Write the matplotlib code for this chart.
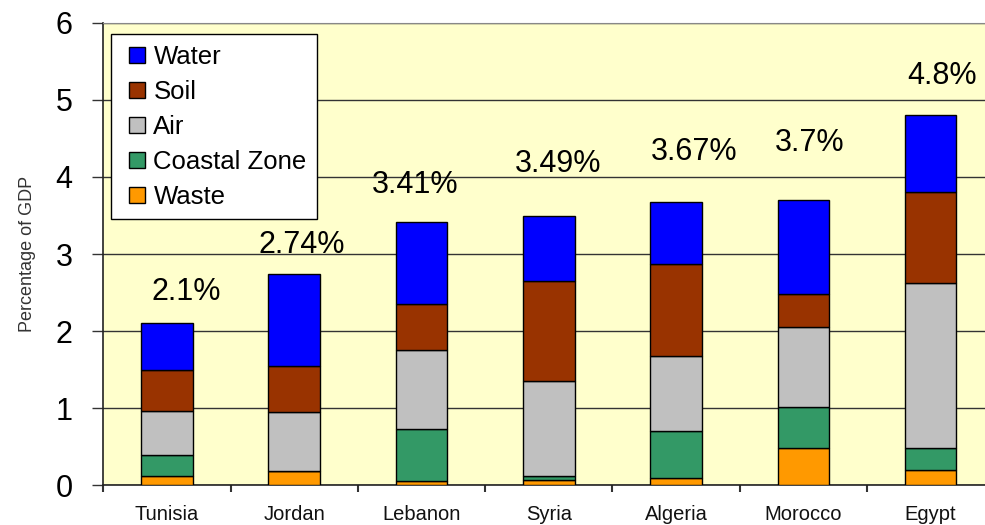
import matplotlib
matplotlib.use("Agg")
import matplotlib.pyplot as plt
from matplotlib.lines import Line2D
import numpy as np

plt.rcParams['font.family'] = ['Liberation Sans', 'DejaVu Sans']

countries = ["Tunisia", "Jordan", "Lebanon", "Syria", "Algeria", "Morocco", "Egypt"]
waste   = [0.12, 0.18, 0.05, 0.07, 0.09, 0.48, 0.20]
coastal = [0.27, 0.00, 0.68, 0.05, 0.61, 0.54, 0.28]
air     = [0.57, 0.77, 1.02, 1.23, 0.98, 1.03, 2.14]
soil    = [0.54, 0.60, 0.60, 1.30, 1.19, 0.43, 1.19]
water   = [0.60, 1.19, 1.06, 0.84, 0.80, 1.22, 0.99]
total_labels = ["2.1%", "2.74%", "3.41%", "3.49%", "3.67%", "3.7%", "4.8%"]

series = [("Waste", waste, "#FF9900"),
          ("Coastal Zone", coastal, "#339966"),
          ("Air", air, "#C0C0C0"),
          ("Soil", soil, "#993300"),
          ("Water", water, "#0000FF")]

# label placement offsets (pixels) relative to bar top / centre
lab_dx = [19, 8, -6, 9, 18, 6, 11]
lab_dy = [31, 29, 37, 52, 50, 57, 39]

W, H = 985, 525
fig = plt.figure(figsize=(W/100, H/100), dpi=100)
fig.patch.set_facecolor("white")
ax = fig.add_axes([103.3/W, 39.7/H, 891/W, 462.6/H])
ax.set_facecolor("#FFFFCC")

x = np.arange(len(countries))
bottom = np.zeros(len(countries))
colors = {}
for name, vals, col in series:
    v = np.array(vals)
    ax.bar(x, v, bottom=bottom, width=0.405, color=col, edgecolor="black",
           linewidth=1.0, label=name, zorder=3)
    colors[name] = col
    bottom += v

for i, t in enumerate(total_labels):
    ax.annotate(t, xy=(x[i], bottom[i]), xytext=(lab_dx[i]*0.72, lab_dy[i]*0.72),
                textcoords="offset points", ha="center", va="center",
                fontsize=22, color="black", zorder=4)

ax.set_xlim(-0.5, 6.5)
ax.set_ylim(0, 6)
ax.set_yticks(range(0, 7))
ax.yaxis.grid(True, color="#333333", linewidth=1.0, zorder=0)
ax.set_axisbelow(True)
ax.tick_params(axis="y", labelsize=22, length=8, width=1, pad=14, color="#333333")
ax.set_xticks(x)
ax.set_xticklabels(countries)
ax.tick_params(axis="x", which="major", length=0, labelsize=14.5, pad=14, labelcolor="#111111")
ax.set_xticks(np.arange(-0.5, 7.0, 1.0), minor=True)
ax.tick_params(axis="x", which="minor", length=5, width=1.5, color="#333333")

for s in ["left", "bottom"]:
    ax.spines[s].set_color("#222222")
    ax.spines[s].set_linewidth(1.2)
ax.spines["top"].set_color("#888888")
ax.spines["right"].set_visible(False)

ax.set_ylabel("Percentage of GDP", fontsize=13, color="#333333")
ax.yaxis.set_label_coords(-0.075, 0.5)

order = ["Water", "Soil", "Air", "Coastal Zone", "Waste"]
leg_handles = [Line2D([], [], linestyle="none", marker="s", markersize=11.5,
                      markerfacecolor=colors[n], markeredgecolor="black",
                      markeredgewidth=1.0) for n in order]
leg = ax.legend(leg_handles, order, loc="upper left",
                bbox_to_anchor=(111/W, 1 - 34.3/H), bbox_transform=fig.transFigure,
                fontsize=18.5, frameon=True, fancybox=False, framealpha=1,
                edgecolor="black", handlelength=1.25, handleheight=0.7,
                handletextpad=0.0, labelspacing=0.43, borderpad=0.4,
                borderaxespad=0)
leg.get_frame().set_linewidth(1.0)
leg.set_zorder(5)

fig.savefig("out.png", dpi=100)
